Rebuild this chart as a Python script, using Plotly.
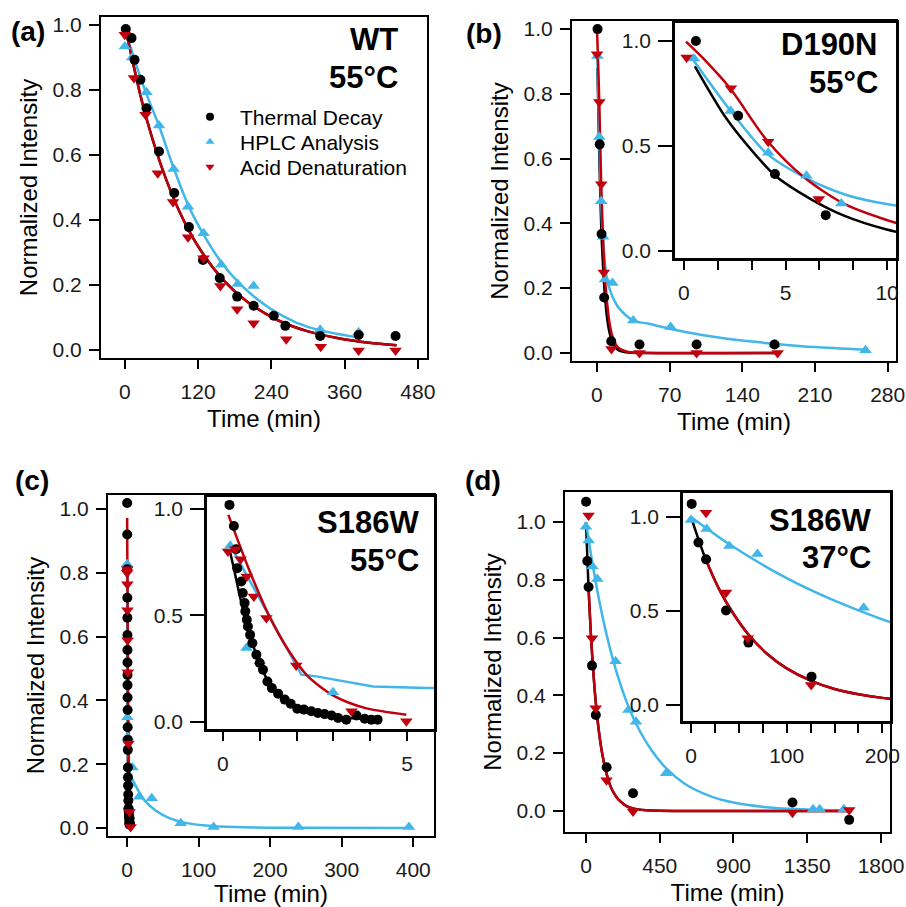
import plotly.graph_objects as go

W, H = 906, 907
FONT = "Liberation Sans, Arial, sans-serif"
BLACK = "#000000"
BLUE = "#41b6e8"
RED = "#c0000c"

# ---------------- (a) WT 55 C ----------------
a_td_t = [1.6, 11, 16, 25.6, 35.5, 56, 81, 105, 128, 155.5, 184, 211, 244, 263, 320, 383, 443.5]
a_td_y = [0.988, 0.960, 0.893, 0.832, 0.744, 0.611, 0.483, 0.378, 0.277, 0.221, 0.164, 0.136, 0.105, 0.074, 0.043, 0.046, 0.043]
a_hplc_t = [0, 12, 35.5, 56, 80, 103.6, 129, 158, 185, 211, 320, 383]
a_hplc_y = [0.934, 0.90, 0.793, 0.691, 0.557, 0.441, 0.359, 0.262, 0.203, 0.197, 0.062, 0.054]
a_acid_t = [0, 15, 34, 54, 79, 103.6, 129, 156.5, 184, 211, 264.5, 321, 383, 443.5]
a_acid_y = [0.970, 0.837, 0.724, 0.544, 0.455, 0.347, 0.282, 0.197, 0.125, 0.082, 0.033, 0.010, -0.002, -0.002]
fit_a_t = [0, 30, 60, 90, 120, 160, 200, 250, 300, 350, 400, 445]
fit_a_y = [1.0, 0.751, 0.565, 0.424, 0.319, 0.218, 0.149, 0.092, 0.057, 0.036, 0.022, 0.014]
fit_a_hplc_t = [3, 20, 35, 56, 80, 104, 129, 158, 185, 211, 240, 280, 320, 383]
fit_a_hplc_y = [0.97, 0.87, 0.79, 0.69, 0.56, 0.445, 0.355, 0.27, 0.21, 0.165, 0.125, 0.085, 0.06, 0.038]

# ---------------- (b) D190N 55 C ----------------
b_td_t = [0.59, 2.67, 4.48, 6.98, 13.8, 41, 96, 171]
b_td_y = [1.0, 0.644, 0.367, 0.171, 0.036, 0.026, 0.026, 0.026]
b_hplc_t = [0.49, 2.3, 4.15, 6.03, 7.75, 15, 35, 71, 171, 258.6]
b_hplc_y = [0.917, 0.667, 0.468, 0.359, 0.227, 0.216, 0.10, 0.08, 0.026, 0.008]
b_acid_t = [0.13, 2.31, 4.15, 6.64, 14, 41, 96, 174]
b_acid_y = [0.922, 0.775, 0.521, 0.248, 0.012, 0.0, 0.0, 0.0]
fit_b_td_t = [0.54, 2.1, 3.6, 4.48, 6.2, 7.85, 9.98, 12, 15, 20, 30, 50, 175]
fit_b_td_y = [0.88, 0.63, 0.45, 0.36, 0.25, 0.17, 0.103, 0.065, 0.033, 0.01, 0.001, 0, 0]
fit_b_acid_t = [0.1, 0.95, 2.27, 4.07, 5.88, 7.85, 9.98, 12, 15, 20, 30, 50, 175]
fit_b_acid_y = [0.997, 0.917, 0.775, 0.529, 0.354, 0.227, 0.148, 0.095, 0.05, 0.018, 0.003, 0, 0]
fit_b_hplc_t = [0.46, 2.27, 4.07, 6.04, 8.0, 9.98, 13, 17, 22, 35, 50, 71, 100, 140, 175, 210, 258]
fit_b_hplc_y = [0.91, 0.671, 0.465, 0.346, 0.267, 0.224, 0.19, 0.16, 0.135, 0.10, 0.09, 0.074, 0.056, 0.038, 0.027, 0.018, 0.01]

# ---------------- (c) S186W 55 C ----------------
c_td_t = [0.18, 0.30, 0.36, 0.39, 0.50, 0.54, 0.59, 0.61, 0.65, 0.68, 0.74, 0.80, 0.91, 1.00, 1.09, 1.21,
          1.33, 1.50, 1.68, 1.84, 2.02, 2.20, 2.40, 2.58, 2.76, 2.95, 3.13, 3.35, 3.63, 3.85, 4.03, 4.20]
c_td_y = [1.019, 0.920, 0.811, 0.722, 0.659, 0.605, 0.558, 0.519, 0.480, 0.448, 0.409, 0.370, 0.316, 0.277, 0.245, 0.190,
          0.159, 0.133, 0.105, 0.086, 0.062, 0.058, 0.050, 0.042, 0.037, 0.030, 0.019, 0.011, 0.030, 0.015, 0.011, 0.011]
c_hplc_t = [0.2, 0.64, 1.0, 2.99, 7.5, 17, 34.5, 75, 121, 239.5, 394]
c_hplc_y = [0.827, 0.347, 0.285, 0.139, 0.19, 0.098, 0.093, 0.015, 0.003, 0.003, 0.003]
c_acid_t = [0.14, 0.34, 0.48, 0.65, 0.84, 1.18, 1.99, 3.49, 4.98]
c_acid_y = [0.80, 0.811, 0.764, 0.683, 0.589, 0.488, 0.265, 0.050, 0.003]
fit_c_td_t = [0.18, 0.3, 0.45, 0.6, 0.8, 1.0, 1.2, 1.5, 1.8, 2.2, 2.7, 3.3, 4.2]
fit_c_td_y = [0.81, 0.72, 0.6, 0.49, 0.37, 0.275, 0.2, 0.135, 0.092, 0.06, 0.037, 0.021, 0.01]
fit_c_acid_t = [0.15, 0.68, 1.22, 1.77, 2.31, 3.04, 3.85, 4.98]
fit_c_acid_y = [0.972, 0.729, 0.511, 0.339, 0.214, 0.12, 0.066, 0.034]
fit_c_hplc_t = [0.2, 2.13, 2.54, 4.08, 5.53, 8, 15, 25, 40, 60, 80, 110, 150, 250, 390]
fit_c_hplc_y = [0.83, 0.222, 0.214, 0.167, 0.159, 0.15, 0.12, 0.085, 0.055, 0.03, 0.017, 0.008, 0.003, 0.001, 0.0]

# ---------------- (d) S186W 37 C ----------------
d_td_t = [0.7, 7.7, 15.7, 36.6, 60, 126, 287, 1260, 1606]
d_td_y = [1.07, 0.865, 0.775, 0.503, 0.332, 0.151, 0.061, 0.029, -0.031]
d_hplc_t = [0, 16.4, 40, 69.4, 180.5, 259, 305, 489, 1386, 1426, 1573]
d_hplc_y = [0.984, 0.936, 0.846, 0.803, 0.518, 0.349, 0.309, 0.13, 0.006, 0.006, 0.006]
d_acid_t = [15.7, 36.6, 59.3, 125.6, 287, 1260, 1606]
d_acid_y = [1.023, 0.598, 0.355, 0.106, -0.002, -0.006, 0.003]
fit_d_t = [0, 15, 30, 45, 60, 80, 100, 125, 150, 175, 200, 250, 300, 400, 600, 1000, 1620]
fit_d_y = [1.0, 0.78, 0.61, 0.48, 0.375, 0.27, 0.195, 0.13, 0.085, 0.057, 0.038, 0.016, 0.007, 0.001, 0.0, 0.0, 0.0]
fit_d_hplc_t = [0, 40, 100, 150, 200, 260, 330, 400, 490, 600, 750, 900, 1100, 1350, 1600]
fit_d_hplc_y = [1.0, 0.855, 0.675, 0.555, 0.456, 0.36, 0.275, 0.21, 0.147, 0.095, 0.053, 0.029, 0.013, 0.005, 0.002]

legend_names = ["Thermal Decay", "HPLC Analysis", "Acid Denaturation"]

fig = go.Figure()


def ids(n):
    return ("x", "y") if n == 1 else (f"x{n}", f"y{n}")


def fit(n, t, y, color, shape="spline"):
    xa, ya = ids(n)
    fig.add_trace(go.Scatter(x=t, y=y, mode="lines", xaxis=xa, yaxis=ya, showlegend=False,
                             line=dict(color=color, width=2.5, shape=shape, smoothing=0.8),
                             hoverinfo="skip"))


def pts(n, t, y, color, symbol, size):
    xa, ya = ids(n)
    fig.add_trace(go.Scatter(x=t, y=y, mode="markers", xaxis=xa, yaxis=ya, showlegend=False,
                             marker=dict(color=color, symbol=symbol, size=size, line=dict(width=0))))


def panel(n, td, hp, ac, fits, hp_shape="spline"):
    for t, y, c in fits:
        fit(n, t, y, c, hp_shape if c == BLUE else "spline")
    pts(n, hp[0], hp[1], BLUE, "triangle-up", 11)
    pts(n, td[0], td[1], BLACK, "circle", 10)
    pts(n, ac[0], ac[1], RED, "triangle-down", 11)


# (a)
panel(1, (a_td_t, a_td_y), (a_hplc_t, a_hplc_y), (a_acid_t, a_acid_y),
      [(fit_a_t, fit_a_y, BLACK), (fit_a_hplc_t, fit_a_hplc_y, BLUE), (fit_a_t, fit_a_y, RED)])
# (b) main + inset
for n in (2, 3):
    panel(n, (b_td_t, b_td_y), (b_hplc_t, b_hplc_y), (b_acid_t, b_acid_y),
          [(fit_b_td_t, fit_b_td_y, BLACK), (fit_b_hplc_t, fit_b_hplc_y, BLUE),
           (fit_b_acid_t, fit_b_acid_y, RED)])
# (c) main + inset
for n in (4, 5):
    panel(n, (c_td_t, c_td_y), (c_hplc_t, c_hplc_y), (c_acid_t, c_acid_y),
          [(fit_c_td_t, fit_c_td_y, BLACK), (fit_c_hplc_t, fit_c_hplc_y, BLUE),
           (fit_c_acid_t, fit_c_acid_y, RED)],
          hp_shape="linear" if n == 5 else "spline")
# (d) main + inset
for n in (6, 7):
    panel(n, (d_td_t, d_td_y), (d_hplc_t, d_hplc_y), (d_acid_t, d_acid_y),
          [(fit_d_t, fit_d_y, BLACK), (fit_d_hplc_t, fit_d_hplc_y, BLUE),
           (fit_d_t[1:], fit_d_y[1:], RED)])

# legend entries for panel (a), one small legend per row so rows sit where they do in the original
legend_ids = ["legend", "legend2", "legend3"]
legend_rows = [117, 142, 167]
for name, color, symbol, lg in zip(legend_names, [BLACK, BLUE, RED],
                                   ["circle", "triangle-up", "triangle-down"], legend_ids):
    fig.add_trace(go.Scatter(x=[None], y=[None], mode="markers", name=name, xaxis="x", yaxis="y",
                             legend=lg, marker=dict(color=color, symbol=symbol, size=8)))


def dom(x0, x1, y0, y1):
    return [x0 / W, x1 / W], [1 - y1 / H, 1 - y0 / H]


TICKFONT = dict(family=FONT, size=21, color="#1a1a1a")
TITLEFONT = dict(family=FONT, size=24, color="#000")


def set_axes(n, box, xr, yr, xdt, ydt, inset=False, xminor=None):
    xd, yd = dom(*box)
    xa, ya = ids(n)
    xkey = "xaxis" if n == 1 else f"xaxis{n}"
    ykey = "yaxis" if n == 1 else f"yaxis{n}"
    common = dict(showgrid=False, zeroline=False, showline=True, linecolor="black",
                  linewidth=2.5 if inset else 2, mirror=True, ticks="outside",
                  tickwidth=2, tickcolor="black", tickfont=TICKFONT, automargin=False)
    xaxis = dict(common, domain=xd, range=xr, dtick=xdt, tick0=0, anchor=ya, ticklen=9,
                 ticklabelstandoff=5)
    yaxis = dict(common, domain=yd, range=yr, dtick=ydt, tick0=0, anchor=xa,
                 ticklen=14 if inset else 10, tickformat=".1f", ticklabelstandoff=3)
    if xminor:
        xaxis["minor"] = dict(dtick=xminor, tick0=0, ticks="outside", ticklen=9, tickwidth=2,
                              tickcolor="black", showgrid=False)
    if not inset:
        xaxis["title"] = dict(text="Time (min)", font=TITLEFONT, standoff=8)
        yaxis["title"] = dict(text="Normalized Intensity", font=TITLEFONT, standoff=8)
    fig.update_layout(**{xkey: xaxis, ykey: yaxis})


set_axes(1, (101, 427, 17, 358), [-39, 495], [-0.025, 1.025], 120, 0.2)
set_axes(2, (572, 896, 21, 361), [-24, 288], [-0.025, 1.025], 70, 0.2)
set_axes(3, (675, 896, 23, 258), [-0.44, 10.44], [-0.033, 1.086], 5, 0.5, inset=True, xminor=5 / 3)
set_axes(4, (108, 434, 495, 836), [-26.6, 429], [-0.025, 1.044], 100, 0.2)
set_axes(5, (207, 434, 497, 729), [-0.43, 5.73], [-0.033, 1.056], 5, 0.5, inset=True, xminor=1)
set_axes(6, (565, 890, 492, 832), [-128, 1855], [-0.073, 1.104], 450, 0.2)
set_axes(7, (683, 890, 493, 721), [-8.4, 208], [-0.085, 1.128], 100, 0.5, inset=True, xminor=25)

annotations = []


def label(text, px, py, size, xanchor="center"):
    annotations.append(dict(text=text, x=px / W, y=1 - py / H, xref="paper", yref="paper",
                            xanchor=xanchor, yanchor="middle", showarrow=False,
                            font=dict(family=FONT, size=size, color="#000")))


for text, px, py in [("(a)", 28, 32), ("(b)", 484, 33), ("(c)", 32, 480), ("(d)", 483, 480)]:
    label(f"<b>{text}</b>", px, py, 28)

for text, px, py in [("WT", 400, 40), ("55°C", 400, 77),
                     ("D190N", 880, 45), ("55°C", 880, 83),
                     ("S186W", 421, 522), ("55°C", 421, 560),
                     ("S186W", 873, 520), ("37°C", 873, 557)]:
    label(f"<b>{text}</b>", px, py, 31, xanchor="right")

legend_style = dict(xanchor="left", yanchor="middle", bgcolor="rgba(0,0,0,0)", borderwidth=0,
                    font=dict(family=FONT, size=21, color="#000"), itemwidth=50)
fig.update_layout(
    width=W, height=H, margin=dict(l=0, r=0, t=0, b=0),
    template="none", paper_bgcolor="white", plot_bgcolor="white",
    font=dict(family=FONT, color="#000"),
    annotations=annotations,
    showlegend=True,
    **{lg: dict(legend_style, x=180 / W, y=1 - row / H) for lg, row in zip(legend_ids, legend_rows)},
)

fig.write_html("out.html", config={"displayModeBar": False},
               post_script="document.body.style.margin='0px';document.body.style.overflow='hidden';")
